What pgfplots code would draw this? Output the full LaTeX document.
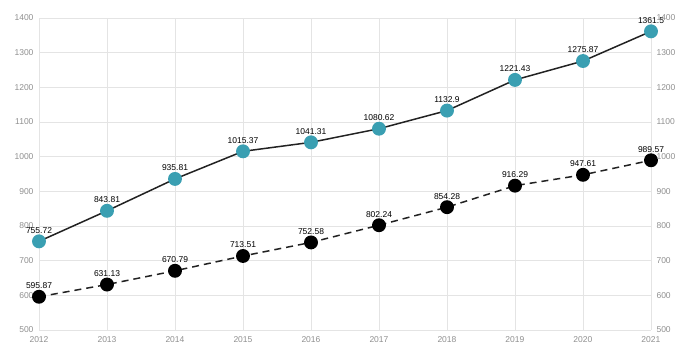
\documentclass[border=0pt]{standalone}
\usepackage{pgfplots}
\pgfplotsset{compat=1.18}
\usepackage{fontspec}
\setmainfont{Liberation Sans}
\definecolor{teal1}{HTML}{3A9FB2}
\definecolor{gridc}{HTML}{E4E4E4}
\definecolor{tickc}{HTML}{8F8F8F}
\definecolor{linec}{HTML}{222222}
\begin{document}
\begin{tikzpicture}[x=1pt,y=1pt]
\pgfplotsset{
  base/.style={
    scale only axis, width=612pt, height=312pt,
    xmin=2012, xmax=2021, ymin=500, ymax=1400,
    xtick={2012,...,2021}, ytick={500,600,...,1400},
    /pgf/number format/assume math mode=true,
    /pgf/number format/1000 sep={},
    x tick label style={font=\fontsize{8.5}{9}\selectfont, text=tickc, yshift=-3pt},
    y tick label style={font=\fontsize{8.5}{9}\selectfont, text=tickc},
    axis line style={draw=none}, tick style={draw=none},
    clip=false,
  }
}
\begin{axis}[base,
  grid=major, major grid style={gridc, line width=0.8pt},
  yticklabel style={xshift=-2pt},
  nodes near coords,
  point meta=explicit symbolic,
  every node near coord/.style={font=\fontsize{8.5}{9}\selectfont, text=black, anchor=south, yshift=4pt},
]
\addplot[linec, line width=1.5pt, mark=*, mark size=6.2pt, mark options={solid, fill=teal1, draw=teal1}]
  table[meta=l] {
x y l
2012 755.72 755.72
2013 843.81 843.81
2014 935.81 935.81
2015 1015.37 1015.37
2016 1041.31 1041.31
2017 1080.62 1080.62
2018 1132.9 1132.9
2019 1221.43 1221.43
2020 1275.87 1275.87
2021 1361.5 1361.5
};
\addplot[linec, line width=1.5pt, dash pattern=on 7pt off 5pt, mark=*, mark size=6.2pt, mark options={solid, fill=black, draw=black}]
  table[meta=l] {
x y l
2012 595.87 595.87
2013 631.13 631.13
2014 670.79 670.79
2015 713.51 713.51
2016 752.58 752.58
2017 802.24 802.24
2018 854.28 854.28
2019 916.29 916.29
2020 947.61 947.61
2021 989.57 989.57
};
\end{axis}
\begin{axis}[base, axis y line*=right, axis x line=none, yticklabel style={xshift=2pt}]
\addplot[draw=none] coordinates {(2012,500)};
\end{axis}
\pgfresetboundingbox
\useasboundingbox (-39,-20) rectangle (641,330);
\end{tikzpicture}
\end{document}
